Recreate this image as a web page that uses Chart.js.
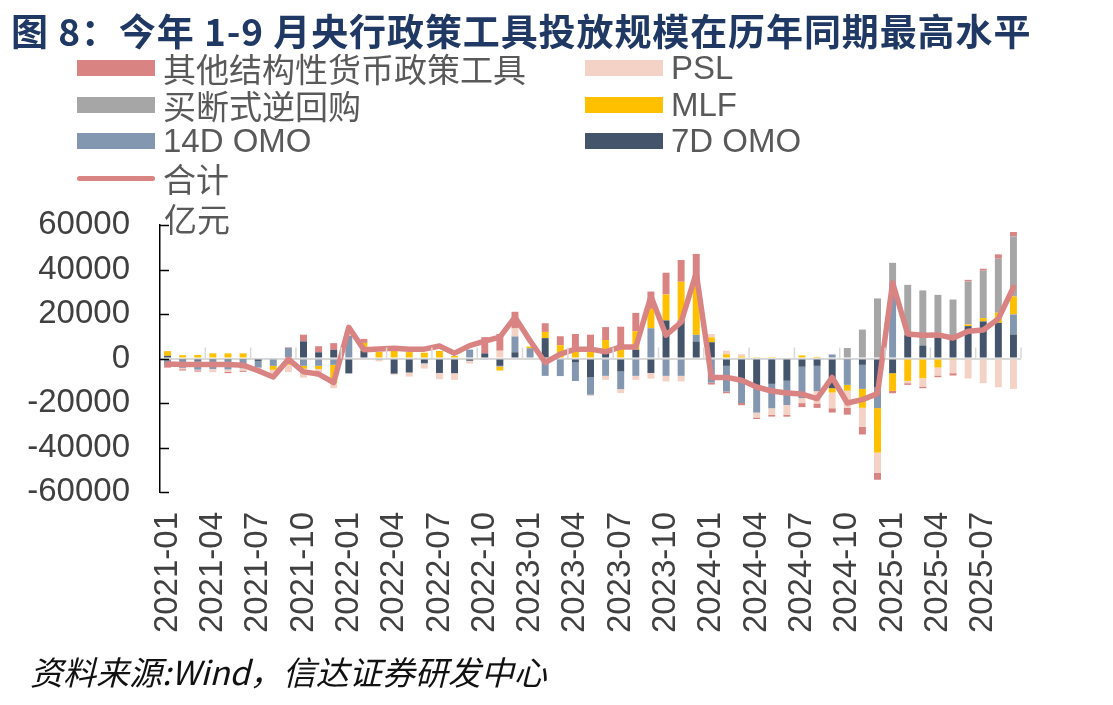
<!DOCTYPE html>
<html lang="zh">
<head>
  <meta charset="UTF-8" />
  <title>央行政策工具投放规模</title>
  <script src="https://cdn.jsdelivr.net/npm/chart.js"></script>
  <style>
    * { box-sizing: border-box; margin: 0; padding: 0; }
    body { background: #fff; width: 1113px; height: 705px; position: relative; overflow: hidden;
           font-family: "Liberation Sans", Arial, "Noto Sans CJK SC", sans-serif; }
    #wrap { position: absolute; left: 0; top: 0; width: 1113px; height: 705px; }
    .title { position: absolute; left: 11px; top: 3px; font-size: 37px; font-weight: bold; color: #1f3864;
             font-family: "Noto Sans CJK SC", sans-serif; white-space: nowrap; letter-spacing: 0.9px; }
    .legend .item { position: absolute; height: 36px; display: flex; align-items: center; font-size: 33px;
                    color: #595959; white-space: nowrap; }
    .legend .sw { width: 78px; height: 16px; margin-right: 8px; }
    .legend .ln { width: 78px; height: 5px; border-radius: 3px; margin-right: 8px; }
    .unit { position: absolute; left: 164px; top: 194px; font-size: 33px; color: #595959; }
    .source { position: absolute; left: 30px; top: 647px; font-size: 33px; font-style: italic; color: #111;
              font-family: "Noto Sans CJK SC", sans-serif; }
  </style>
</head>
<body>
  <div id="wrap"><canvas id="chart"></canvas></div>
  <div class="title">图 8：今年 1-9 月央行政策工具投放规模在历年同期最高水平</div>
  <div class="legend" id="legend"></div>
  <div class="unit">亿元</div>
  <div class="source">资料来源:Wind，信达证券研发中心</div>

  <script>
    // months 2021-01 .. 2025-09
    const months = [];
    for (let y = 2021; y <= 2025; y++) {
      for (let m = 1; m <= 12; m++) {
        if (y === 2025 && m > 9) break;
        months.push(y + "-" + String(m).padStart(2, "0"));
      }
    }

    // 亿元
    const omo7 = [1200, -900, -1000, -900, -900, -700, -1100, 0, 0, 7700, 2800, 3900,
      -6700, 3600, 0, -6800, -6300, -2000, -6500, -6600, -1000, 2300, -3300, 2800,
      0, 9150, 0, -1800, -8500, 2500, -5850, 4000, -6500, 17100, 17000, 7650,
      7300, -3300, -9500, -13000, -11400, -10000, -3700, -3300, -13350, -600, -2850, -13000,
      -6600, 10500, 5850, 9500, 9500, 14550, 16650, 16050, 10800];
    const omo14 = [-3200, -3300, -4000, -3800, -4000, -3700, -3000, -3300, 4700, -3300, -3300, -2850,
      10300, 0, -600, 0, 0, -300, 0, 0, 4000, -500, -300, 7100,
      4600, -7800, -7900, -8300, -7800, -7800, -7900, -7800, 13600, -7800, -7800, 3000,
      -10800, -11550, -10500, -11300, -10950, -10900, -14100, -11400, 1800, -11250, -10800, -9300,
      34000, 0, 0, 0, 0, 0, 0, 0, 9000];
    const mlf = [2100, 1500, 1600, 2300, 2300, 2300, 0, -1800, -2800, -1300, -1400, -8250,
      0, 3400, 3000, 3400, 2900, 2600, 3400, 1200, 0, 0, -1800, 0,
      800, 2800, 6000, 5000, 5000, 5800, 6000, 8250, 8700, 11700, 17500, 24350,
      2200, 1900, 900, 300, 300, 0, 1400, 750, -1950, -2600, -8500, -20000,
      -7950, -10050, -8850, -4050, -600, 750, 1500, 4500, 8100];
    const buyout = [0, 0, 0, 0, 0, 0, 0, 0, 0, 0, 0, 0,
      0, 0, 0, 0, 0, 0, 0, 0, 0, 0, 0, 0,
      0, 0, 0, 0, 0, 0, 0, 0, 0, 0, 0, 0,
      0, 0, 0, 0, 0, 0, 0, 0, 0, 4700, 13000, 27000,
      9000, 22600, 24750, 19100, 17000, 19350, 21300, 24300, 27000];
    const psl = [0, -600, -300, -1500, -1100, -1000, -800, -1500, -3300, -4000, -3500, -2250,
      0, -500, -700, -500, -1800, -2200, -2800, -3000, -1300, 0, 3500, 3600,
      -500, 0, 0, 0, -500, -1800, -1800, -1800, -2500, -2500, -2500, 0,
      1500, 1600, 1050, -2200, -3000, -4500, -2250, -5500, -7050, -7800, -8500, -9000,
      0, -1050, -3750, -3600, -6000, -9000, -11100, -12900, -13650];
    const other = [-900, -600, -600, 0, -600, -600, 0, 450, 300, 3000, 2700, 3000,
      0, 1800, 0, 0, 0, 0, 0, 0, 0, 7300, 7500, 7500,
      0, 3900, 4000, 6000, 5700, 5800, 8300, 8250, 7800, 9750, 9750, 12000,
      -900, -750, -1000, -700, -750, -750, -1800, -2000, -1950, -3000, -3500, -3200,
      -1050, -750, -750, -750, -1050, 700, 900, 1950, 1950];
    const total = [-2500, -2700, -2700, -2700, -2700, -3000, -5500, -8300, -300, -6000, -7000, -10800,
      14000, 3900, 4300, 4600, 4200, 4200, 5600, 2400, 5800, 7800, 9600, 18600,
      8000, -1800, 2000, 4200, 4200, 3000, 5200, 5200, 28000, 10500, 16300, 38500,
      -8500, -8500, -9800, -12800, -14600, -15500, -16000, -18000, -8500, -20000, -18500, -15800,
      34000, 11000, 10500, 10600, 9200, 12300, 12800, 17800, 32000];

    const yTicks = [-60000, -40000, -20000, 0, 20000, 40000, 60000];

    const C = {
      omo7: "#44546a", omo14: "#8497b0", mlf: "#ffc000",
      buyout: "#a6a6a6", psl: "#f4d3c6", other: "#da8383", total: "#da8383"
    };

    // legend (two columns, same order as the original)
    const legendItems = [
      ["其他结构性货币政策工具", C.other, 77, 50, false],
      ["PSL", C.psl, 585, 50, false],
      ["买断式逆回购", C.buyout, 77, 87, false],
      ["MLF", C.mlf, 585, 87, false],
      ["14D OMO", C.omo14, 77, 123, false],
      ["7D OMO", C.omo7, 585, 123, false],
      ["合计", C.total, 77, 160, true]
    ];
    const legendEl = document.getElementById("legend");
    legendItems.forEach(([name, color, x, y, isLine]) => {
      const d = document.createElement("div");
      d.className = "item";
      d.style.left = x + "px";
      d.style.top = y + "px";
      d.innerHTML = '<span class="' + (isLine ? "ln" : "sw") + '" style="background:' + color + '"></span>' + name;
      legendEl.appendChild(d);
    });

    const bar = (label, data, color) => ({
      type: "bar", label, data, backgroundColor: color, order: 1,
      barPercentage: 0.46, categoryPercentage: 1.0
    });

    // y tick marks inward + short marks on the zero line every 3 months
    const axisMarks = {
      id: "axisMarks",
      afterDraw(chart) {
        const { ctx, scales: { x, y } } = chart;
        ctx.save();
        ctx.strokeStyle = "#000";
        ctx.lineWidth = 1.5;
        yTicks.forEach(v => {
          const py = Math.round(y.getPixelForValue(v)) + 0.5;
          ctx.beginPath();
          ctx.moveTo(x.left, py);
          ctx.lineTo(x.left + 9, py);
          ctx.stroke();
        });
        const step = x.getPixelForValue(1) - x.getPixelForValue(0);
        const y0 = y.getPixelForValue(0);
        ctx.strokeStyle = "#d9d9d9";
        for (let i = 3; i <= months.length; i += 3) {
          const px = x.getPixelForValue(i) - step / 2;
          ctx.beginPath();
          ctx.moveTo(px, y0 - 11);
          ctx.lineTo(px, y0);
          ctx.stroke();
        }
        ctx.restore();
      }
    };

    new Chart(document.getElementById("chart"), {
      data: {
        labels: months,
        datasets: [
          {
            type: "line", label: "合计", data: total, borderColor: C.total, borderWidth: 5.5,
            pointRadius: 0, tension: 0, order: 0, stack: "total",
            borderJoinStyle: "round", borderCapStyle: "round"
          },
          bar("7D OMO", omo7, C.omo7),
          bar("14D OMO", omo14, C.omo14),
          bar("MLF", mlf, C.mlf),
          bar("买断式逆回购", buyout, C.buyout),
          bar("PSL", psl, C.psl),
          bar("其他结构性货币政策工具", other, C.other)
        ]
      },
      options: {
        responsive: true,
        maintainAspectRatio: false,
        animation: false,
        layout: { padding: { top: 225, left: 0, right: 92, bottom: 0 } },
        plugins: { legend: { display: false }, tooltip: { enabled: false } },
        scales: {
          x: {
            stacked: true,
            grid: { display: false },
            border: { display: false },
            afterFit: s => { s.height = 213; },
            ticks: {
              autoSkip: false, minRotation: 90, maxRotation: 90, padding: 12,
              color: "#404040", font: { size: 33, family: "'Liberation Sans', Arial" },
              callback: (v, i) => (i % 3 === 0 ? months[i] : "")
            }
          },
          y: {
            stacked: true,
            min: -60000, max: 60000,
            afterFit: s => { s.width = 160; },
            afterBuildTicks: s => { s.ticks = yTicks.map(v => ({ value: v })); },
            border: { display: true, color: "#000", width: 1.5 },
            grid: {
              drawTicks: false,
              lineWidth: 2,
              color: c => (c.tick && c.tick.value === 0 ? "#d9d9d9" : "rgba(0,0,0,0)")
            },
            ticks: {
              padding: 30, color: "#404040",
              font: { size: 33, family: "'Liberation Sans', Arial" },
              callback: v => String(v)
            }
          }
        }
      },
      plugins: [axisMarks]
    });
  </script>
</body>
</html>
